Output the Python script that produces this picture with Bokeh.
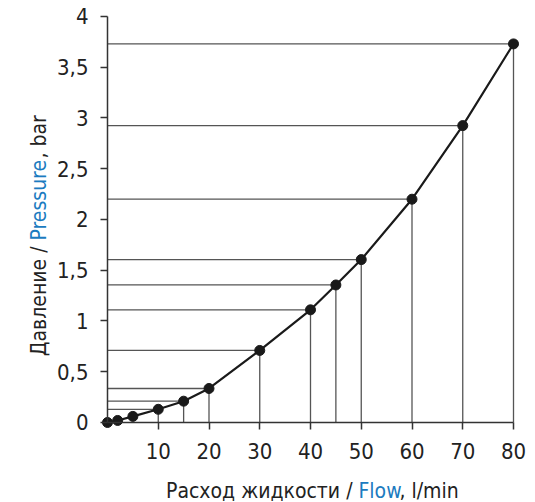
import math
from bokeh.plotting import figure
from bokeh.models import Range1d, FixedTicker, Label, ColumnDataSource
from bokeh.embed import file_html
from bokeh.resources import INLINE

# ---- data ----
flow = [0, 2, 5, 10, 15, 20, 30, 40, 45, 50, 60, 70, 80]
pressure = [0.0, 0.02, 0.06, 0.13, 0.21, 0.335, 0.71, 1.11, 1.355, 1.605, 2.2, 2.925, 3.73]
guide_flow = [10, 15, 20, 30, 40, 45, 50, 60, 70, 80]
guide_pressure = [0.13, 0.21, 0.335, 0.71, 1.11, 1.355, 1.605, 2.2, 2.925, 3.73]
x_ticks = [10, 20, 30, 40, 50, 60, 70, 80]
y_ticks = [0, 0.5, 1, 1.5, 2, 2.5, 3, 3.5, 4]
y_tick_labels = ["0", "0,5", "1", "1,5", "2", "2,5", "3", "3,5", "4"]
xlabel_parts = ["Расход жидкости / ", "Flow", ", l/min"]
ylabel_parts = ["Давление / ", "Pressure", ", bar"]

FONT = "DejaVu Sans Condensed, Liberation Sans Narrow, Roboto Condensed, Roboto"
DARK = "#222222"
BLUE = "#1b7bc0"
TICK_FS = "22px"
TITLE_FS = "21px"

# the frame covers the whole canvas; axes sit at the data origin
p = figure(width=535, height=502, output_backend="svg", toolbar_location=None,
           x_range=Range1d(-21.084, 84.335), y_range=Range1d(-0.7882, 4.1576),
           min_border_left=0, min_border_right=0, min_border_top=0, min_border_bottom=0)
p.outline_line_color = None
p.xgrid.visible = False
p.ygrid.visible = False

for ax, ticks, bounds in ((p.xaxis, x_ticks, (0, 80)), (p.yaxis, y_ticks, (0, 4))):
    ax.ticker = FixedTicker(ticks=ticks)
    ax.fixed_location = 0
    ax.bounds = bounds
    ax.axis_line_color = "#333333"
    ax.axis_line_width = 1.5
    ax.major_tick_line_color = "#333333"
    ax.major_tick_line_width = 1.5
    ax.major_tick_in = 0
    ax.major_tick_out = 7
    ax.minor_tick_line_color = None
    ax.major_label_text_font = FONT
    ax.major_label_text_font_size = TICK_FS
    ax.major_label_text_color = DARK

p.yaxis.major_label_overrides = {t: l for t, l in zip(y_ticks, y_tick_labels)}
p.yaxis.major_label_standoff = 12
p.xaxis.major_label_standoff = 14

src = ColumnDataSource(dict(f=guide_flow, p=guide_pressure))
p.segment(x0=0, y0="p", x1="f", y1="p", source=src, line_color="#555555", line_width=1.3)
p.segment(x0="f", y0=0, x1="f", y1="p", source=src, line_color="#555555", line_width=1.3)

p.line(flow, pressure, line_color="#1a1a1a", line_width=2.2)
p.scatter(flow, pressure, size=10, color="#1a1a1a")

# axis titles with a blue English word; screen coords relative to the frame (= canvas)
common = dict(x_units="screen", y_units="screen", text_font=FONT, text_font_size=TITLE_FS,
              text_baseline="alphabetic")
p.add_layout(Label(x=358, y=12, text=xlabel_parts[0], text_align="right", text_color=DARK, **common))
p.add_layout(Label(x=358, y=12, text=xlabel_parts[1], text_align="left", text_color=BLUE, **common))
p.add_layout(Label(x=399, y=12, text=xlabel_parts[2], text_align="left", text_color=DARK, **common))

p.add_layout(Label(x=38, y=262, angle=math.pi / 2, text=ylabel_parts[0], text_align="right", text_color=DARK, **common))
p.add_layout(Label(x=38, y=262, angle=math.pi / 2, text=ylabel_parts[1], text_align="left", text_color=BLUE, **common))
p.add_layout(Label(x=38, y=344, angle=math.pi / 2, text=ylabel_parts[2], text_align="left", text_color=DARK, **common))

open("out.html", "w").write(file_html(p, INLINE))
